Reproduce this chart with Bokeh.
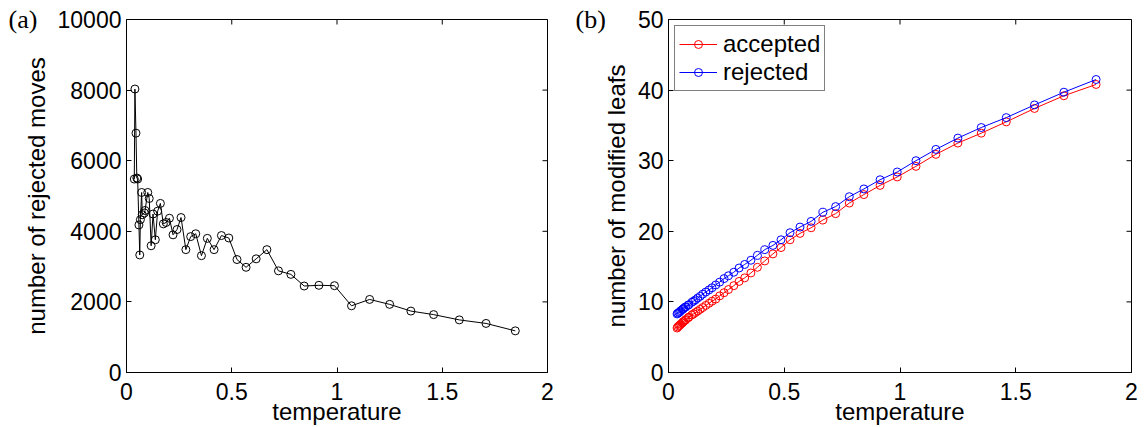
import math
from bokeh.plotting import figure
from bokeh.models import (Range1d, FixedTicker, CustomJSTickFormatter,
                          Legend, LegendItem)
from bokeh.layouts import row
from bokeh.embed import file_html
from bokeh.resources import INLINE

# ---------------- data ----------------
temperature = [0.037, 0.040, 0.045, 0.049, 0.053, 0.059, 0.063, 0.066, 0.072, 0.075,
               0.085, 0.088, 0.101, 0.108, 0.117, 0.126, 0.137, 0.148, 0.161, 0.175,
               0.188, 0.204, 0.221, 0.240, 0.259, 0.282, 0.305, 0.329, 0.356, 0.384,
               0.416, 0.451, 0.486, 0.525, 0.568, 0.616, 0.667, 0.722, 0.781, 0.844,
               0.914, 0.988, 1.069, 1.155, 1.250, 1.351, 1.459, 1.581, 1.708, 1.847]

rejected_moves = [5480, 8030, 6780, 5510, 5480, 4180, 3330, 4330, 5100, 4470,
                  4520, 4590, 5100, 4930, 3590, 4490, 3760, 4570, 4790, 4210,
                  4250, 4370, 3900, 4050, 4390, 3480, 3850, 3930, 3310, 3800,
                  3480, 3880, 3810, 3200, 2980, 3220, 3480, 2880, 2780, 2450,
                  2470, 2460, 1890, 2070, 1930, 1740, 1640, 1490, 1390, 1180]

leafs_accepted = [6.3, 6.45, 6.6, 6.7, 6.85, 7.0, 7.15, 7.25, 7.4, 7.5,
                  7.75, 7.85, 8.15, 8.3, 8.5, 8.7, 8.95, 9.2, 9.5, 9.8,
                  10.1, 10.4, 10.85, 11.3, 11.75, 12.3, 12.9, 13.4, 14.1, 14.9,
                  15.8, 16.8, 17.7, 18.8, 19.7, 20.5, 21.6, 22.5, 24.0, 25.2,
                  26.5, 27.7, 29.2, 30.9, 32.5, 33.9, 35.5, 37.4, 39.2, 40.8]

leafs_rejected = [8.3, 8.4, 8.5, 8.6, 8.75, 8.9, 9.0, 9.1, 9.25, 9.3,
                  9.55, 9.6, 9.95, 10.1, 10.3, 10.55, 10.8, 11.1, 11.4, 11.7,
                  12.0, 12.4, 12.8, 13.3, 13.7, 14.2, 14.8, 15.3, 15.9, 16.6,
                  17.4, 18.0, 18.8, 19.8, 20.6, 21.4, 22.7, 23.5, 24.9, 26.0,
                  27.3, 28.4, 30.0, 31.6, 33.2, 34.7, 36.1, 37.9, 39.7, 41.5]

x_ticks = [0, 0.5, 1, 1.5, 2]
y_ticks_a = [0, 2000, 4000, 6000, 8000, 10000]
y_ticks_b = [0, 10, 20, 30, 40, 50]

FONT = "Liberation Sans"
SERIF = "Liberation Serif"
TICK_SIZE = "23px"
LABEL_SIZE = "24px"


def make_fig(width, left, right, xticks, yticks, ymax, xlabel, ylabel, panel, offset):
    p = figure(width=width, height=427, output_backend="svg", toolbar_location=None,
               x_range=Range1d(0, 2), y_range=Range1d(0, ymax),
               min_border_left=left, min_border_right=right,
               min_border_top=19, min_border_bottom=55,
               x_axis_label=xlabel, y_axis_label=ylabel, title=panel)
    p.grid.visible = False
    p.outline_line_color = "black"
    p.outline_line_width = 1
    p.background_fill_color = "white"
    p.border_fill_color = "white"
    # panel letter "(a)" / "(b)" drawn as the title, left of the axes
    p.title.text_font = SERIF
    p.title.text_font_size = "26px"
    p.title.text_font_style = "normal"
    p.title.text_color = "black"
    p.title.align = "left"
    p.title.vertical_align = "bottom"
    p.title.offset = offset
    p.title.standoff = -28
    fmt_js = "return String(tick);"
    for ax, ticks in ((p.xaxis[0], xticks), (p.yaxis[0], yticks)):
        ax.ticker = FixedTicker(ticks=ticks)
        ax.formatter = CustomJSTickFormatter(code=fmt_js)
        ax.major_tick_in = 5
        ax.major_tick_out = 0
        ax.minor_tick_line_color = None
        ax.axis_line_color = "black"
        ax.axis_line_width = 1
        ax.major_tick_line_color = "black"
        ax.major_label_text_font = FONT
        ax.major_label_text_font_size = TICK_SIZE
        ax.major_label_text_color = "black"
        ax.axis_label_text_font = FONT
        ax.axis_label_text_font_size = LABEL_SIZE
        ax.axis_label_text_font_style = "normal"
        ax.axis_label_text_color = "black"
    p.xaxis[0].major_label_standoff = 10
    p.xaxis[0].axis_label_standoff = -5
    p.xaxis[0].major_label_text_line_height = 1.0
    p.xaxis[0].axis_label_text_line_height = 1.0
    p.yaxis[0].major_label_standoff = 5
    p.yaxis[0].axis_label_standoff = 5
    # box ticks on top and right (inward), placed at the tick values
    p.ray(x=xticks, y=[ymax] * len(xticks), length=5, length_units="screen",
          angle=-math.pi / 2, line_color="black", line_width=1)
    p.ray(x=[2] * len(yticks), y=yticks, length=5, length_units="screen",
          angle=math.pi, line_color="black", line_width=1)
    return p


# ---------------- panel (a) ----------------
p1 = make_fig(570, 126, 23, x_ticks, y_ticks_a, 10000, "temperature",
              "number of rejected moves", "(a)", -118)
p1.line(temperature, rejected_moves, line_color="black", line_width=1)
p1.scatter(temperature, rejected_moves, marker="circle", size=8, fill_color=None,
           line_color="black", line_width=1)

# ---------------- panel (b) ----------------
p2 = make_fig(574, 98, 13, x_ticks, y_ticks_b, 50, "temperature",
              "number of modified leafs", "(b)", -93)
lr = p2.line(temperature, leafs_accepted, line_color="#ff0000", line_width=1)
sr = p2.scatter(temperature, leafs_accepted, marker="circle", size=8, fill_color=None,
                line_color="#ff0000", line_width=1)
lb = p2.line(temperature, leafs_rejected, line_color="#0000ff", line_width=1)
sb = p2.scatter(temperature, leafs_rejected, marker="circle", size=8, fill_color=None,
                line_color="#0000ff", line_width=1)

legend = Legend(items=[LegendItem(label="accepted", renderers=[lr, sr]),
                       LegendItem(label="rejected", renderers=[lb, sb])],
                location="top_left", margin=6, padding=4, spacing=0,
                glyph_width=38, glyph_height=20, label_height=20, label_standoff=6,
                label_text_font=FONT, label_text_font_size=LABEL_SIZE,
                label_text_line_height=1.0,
                label_text_color="black", border_line_color="black",
                border_line_width=1, background_fill_color="white",
                background_fill_alpha=1)
p2.add_layout(legend)

layout = row(p1, p2)
open("out.html", "w").write(file_html(layout, INLINE))
